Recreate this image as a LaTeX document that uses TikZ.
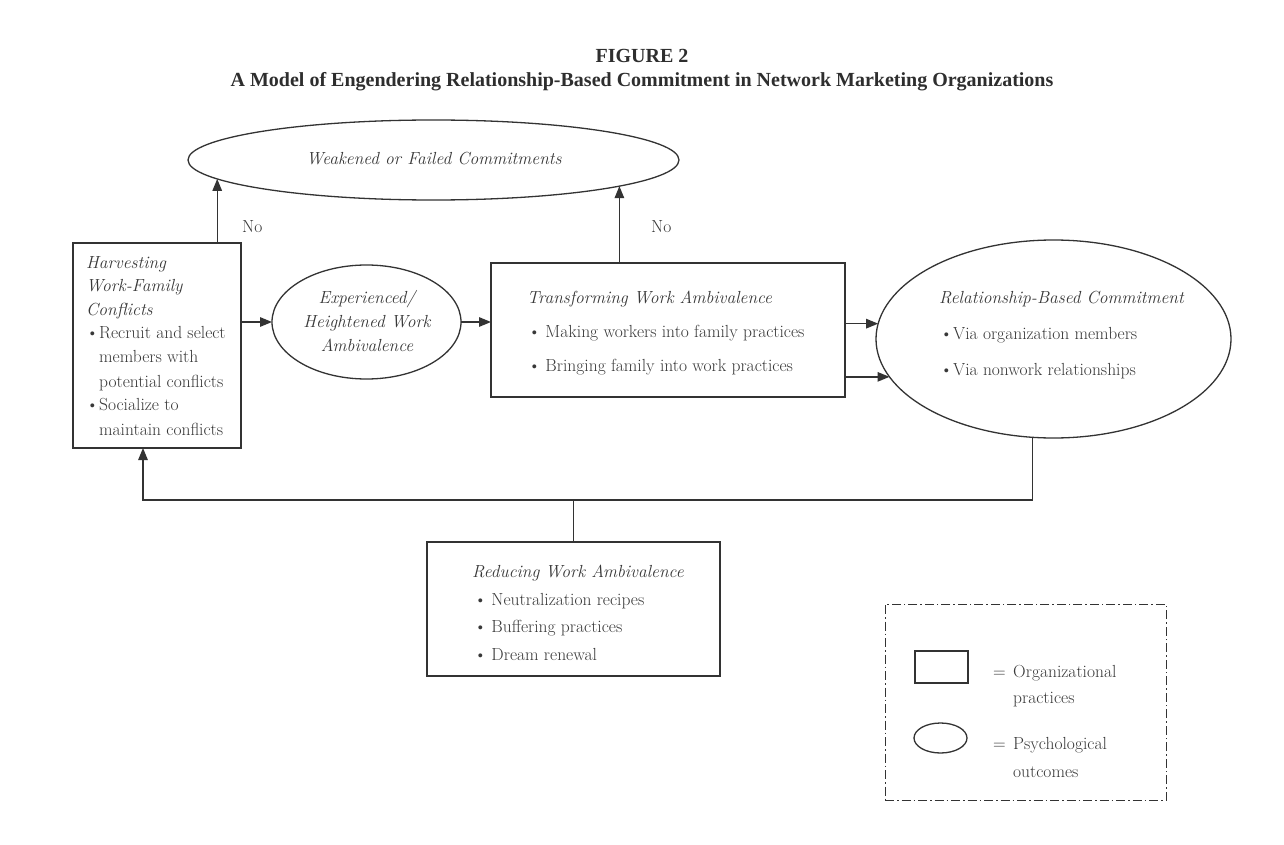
\documentclass[tikz,border=0pt]{standalone}
\usepackage{fontspec}
\newfontfamily\titlefont{Liberation Serif}
\usetikzlibrary{arrows.meta,shapes.geometric}
\definecolor{textgray}{gray}{0.22}
\definecolor{linecol}{gray}{0.2}
\newcommand\bul[1][13pt]{\makebox[#1][l]{\textbullet}}
\begin{document}
\begin{tikzpicture}[x=1pt,y=-1pt,
  box/.style={draw=linecol,line width=1.3pt,rectangle,inner sep=0,outer sep=0,anchor=north west},
  oval/.style={draw=linecol,line width=1.3pt,ellipse,inner sep=0,outer sep=0},
  txt/.style={anchor=base west,inner sep=0,text=textgray,font=\fontsize{17.5}{20}\selectfont},
  itxt/.style={txt,font=\fontsize{17.5}{20}\selectfont\itshape},
  ctxt/.style={itxt,anchor=base},
  ttl/.style={anchor=base,inner sep=0,text=black!82,font=\fontsize{20}{22}\selectfont\titlefont\bfseries},
  conn/.style={draw=linecol,line width=1.3pt},
  arr/.style={conn,-{Triangle[length=12pt,width=9.5pt]}}]
\fill[white] (0,0) rectangle (1284,845);
\useasboundingbox (0,0) rectangle (1284,845);

% title
\node[ttl] (t1) at (642,63) {FIGURE 2};
\node[ttl] (t2) at (642,87) {A Model of Engendering Relationship-Based Commitment in Network Marketing Organizations};

% shapes
\node[oval,minimum width=491pt,minimum height=80pt] (weak) at (433.5,160) {};
\node[box,minimum width=168pt,minimum height=205pt] (harv) at (73,243) {};
\node[oval,minimum width=189pt,minimum height=114pt] (exp) at (366.5,322) {};
\node[box,minimum width=354pt,minimum height=134pt] (trans) at (491,263) {};
\node[oval,minimum width=355pt,minimum height=198pt] (rel) at (1053.5,339) {};
\node[box,minimum width=293pt,minimum height=134pt] (red) at (427,542) {};

% texts
\node[ctxt] (wt) at (434,165) {Weakened or Failed Commitments};

\node[itxt] (h1) at (86,268) {Harvesting};
\node[itxt] (h2) at (86,291) {Work-Family};
\node[itxt] (h3) at (86,315) {Conflicts};
\node[txt] (h4) at (86,338) {\bul Recruit and select};
\node[txt] (h5) at (99,362) {members with};
\node[txt] (h6) at (99,387) {potential conflicts};
\node[txt] (h7) at (86,410) {\bul Socialize to};
\node[txt] (h8) at (99,435) {maintain conflicts};

\node[ctxt] (e1) at (367,303) {Experienced/};
\node[ctxt] (e2) at (367,327) {Heightened Work};
\node[ctxt] (e3) at (367,351) {Ambivalence};

\node[itxt] (tr1) at (527,303) {Transforming Work Ambivalence};
\node[txt] (tr2) at (528,337) {\bul[12pt] Making workers into family practices};
\node[txt] (tr3) at (528,371) {\bul[12pt] Bringing family into work practices};

\node[itxt] (r1) at (939,303) {Relationship-Based Commitment};
\node[txt] (r2) at (940,339) {\bul Via organization members};
\node[txt] (r3) at (940,375) {\bul Via nonwork relationships};

\node[itxt] (d1) at (472,577) {Reducing Work Ambivalence};
\node[txt] (d2) at (474,605) {\bul[12pt] Neutralization recipes};
\node[txt] (d3) at (474,632) {\bul[12pt] Buffering practices};
\node[txt] (d4) at (474,660) {\bul[12pt] Dream renewal};

\node[txt] (no1) at (242,232) {No};
\node[txt] (no2) at (651,232) {No};

% connectors
\coordinate (bendL) at (143,500);
\draw[arr] (weak.185.27 |- harv.north) -- (weak.185.27);
\draw[arr] (weak.352.75 |- trans.north) -- (weak.352.75);
\draw[arr] (harv.east |- exp.west) -- (exp.west);
\draw[arr] (exp.east) -- (trans.west |- exp.east);
\draw[arr] (trans.east |- rel.175.8) -- (rel.175.8);
\draw[arr] (trans.east |- rel.193.05) -- (rel.193.05);
\draw[arr] (rel.258.5) |- (bendL) -- (harv.south -| bendL);
\draw[conn] (red.north) -- (red.north |- bendL);

% legend
\node[box,line width=1pt,dash pattern=on 9pt off 3pt on 1.5pt off 3pt,minimum width=281pt,minimum height=196pt] (leg) at (885,604) {};
\node[box,minimum width=53pt,minimum height=32pt] (lrect) at (915,651) {};
\node[oval,minimum width=53pt,minimum height=30pt] (lell) at (940.5,738) {};
\node[txt] (l1) at (993,677) {=};
\node[txt] (l2) at (1013,677) {Organizational};
\node[txt] (l3) at (1013,703) {practices};
\node[txt] (l4) at (993,749) {=};
\node[txt] (l5) at (1013,749) {Psychological};
\node[txt] (l6) at (1013,777) {outcomes};
\end{tikzpicture}
\end{document}
